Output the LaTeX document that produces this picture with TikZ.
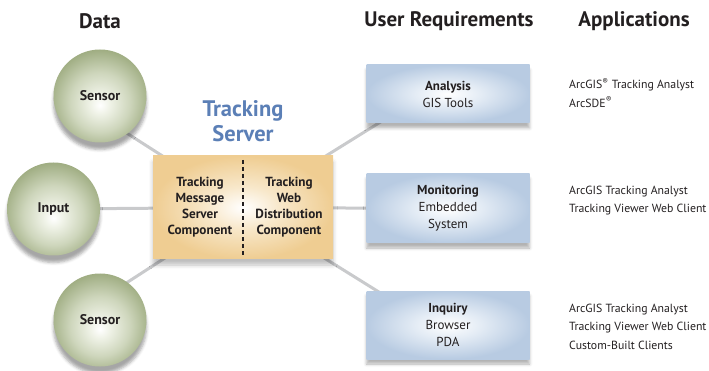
\documentclass[tikz,border=0pt]{standalone}
\usepackage{fontspec}
\setmainfont{PT Sans}
\usetikzlibrary{calc, shadows.blur, backgrounds}
\definecolor{txtgray}{HTML}{231F20}
\definecolor{linegray}{HTML}{C9CACC}
\definecolor{titleblue}{HTML}{5B7FB6}
\definecolor{circgreen}{RGB}{156,170,126}
\definecolor{circmid}{RGB}{206,214,188}
\definecolor{circlight}{RGB}{240,243,232}
\definecolor{boxtan}{RGB}{239,205,146}
\definecolor{boxmid}{RGB}{248,232,203}
\definecolor{reqblue}{RGB}{184,203,226}
\definecolor{reqmid}{RGB}{228,236,245}
\pgfdeclareradialshading{sensorshade}{\pgfpoint{0bp}{-5bp}}{color(0bp)=(white); color(5bp)=(circlight); color(16bp)=(circmid); color(28bp)=(circgreen); color(50bp)=(circgreen)}
\pgfdeclareradialshading{servershade}{\pgfpoint{0bp}{0bp}}{color(0bp)=(white); color(10bp)=(boxmid); color(25bp)=(boxtan); color(50bp)=(boxtan)}
\pgfdeclareradialshading{reqshade}{\pgfpoint{0bp}{0bp}}{color(0bp)=(white); color(10bp)=(reqmid); color(25bp)=(reqblue); color(50bp)=(reqblue)}
\tikzstyle{header} = [font=\bfseries\fontsize{21}{24}\selectfont, text=txtgray]
\tikzstyle{source} = [circle, minimum size=93pt, inner sep=0pt, shading=sensorshade, font=\bfseries\fontsize{14}{16}\selectfont, text=txtgray, blur shadow={shadow xshift=0pt, shadow yshift=-7pt, shadow blur radius=3pt, shadow opacity=35}]
\tikzstyle{server} = [rectangle, minimum width=180pt, minimum height=103pt, inner sep=0pt, shading=servershade, blur shadow={shadow xshift=0pt, shadow yshift=-6pt, shadow blur radius=4pt, shadow opacity=25}]
\tikzstyle{comp} = [align=center, font=\bfseries\fontsize{13.2}{16}\selectfont, text=txtgray]
\tikzstyle{req} = [rectangle, minimum width=163pt, inner sep=0pt, align=center, shading=reqshade, font=\fontsize{13}{17}\selectfont, text=txtgray, blur shadow={shadow xshift=0pt, shadow yshift=-5pt, shadow blur radius=3pt, shadow opacity=30}]
\tikzstyle{app} = [anchor=west, align=left, inner sep=0pt, font=\fontsize{11.8}{18.5}\selectfont, text=txtgray]
\tikzstyle{link} = [line width=3pt, linegray]

\begin{document}
\begin{tikzpicture}[x=1pt,y=-1pt]
        \useasboundingbox (0,0) rectangle (709,371);
        % column headers
        \node [header] at (100,21) (hdata) {Data};
        \node [header] at (449,21) (hreq) {User Requirements};
        \node [header] at (634,21) (happ) {Applications};
        % data sources
        \node [source] at (100,96) (sensora) {Sensor};
        \node [source] at (53.5,209) (input) {Input};
        \node [source] at (100,320) (sensorb) {Sensor};
        % tracking server
        \node [font=\bfseries\fontsize{22.5}{25}\selectfont, text=titleblue, align=center] at (243,121) (title) {Tracking\\Server};
        \node [server] at (243,207.5) (srv) {};
        \node [comp] at (200,207) (msgcomp) {Tracking\\Message\\Server\\Component};
        \node [comp] at (289,207) (webcomp) {Tracking\\Web\\Distribution\\Component};
        \draw [line width=1.6pt, dash pattern=on 4pt off 3pt, txtgray] ([yshift=-4pt]srv.north) -- ([yshift=4pt]srv.south);
        % user requirements
        \node [req, minimum height=58pt] at (448,94) (analysis) {\textbf{Analysis}\\GIS Tools};
        \node [req, minimum height=69pt] at (448,208.5) (monitor) {\textbf{Monitoring}\\Embedded\\System};
        \node [req, minimum height=68pt] at (448,325) (inquiry) {\textbf{Inquiry}\\Browser\\PDA};
        % applications
        \node [app] at (569,93) (appa) {ArcGIS\textsuperscript{®} Tracking Analyst\\ArcSDE\textsuperscript{®}};
        \node [app] at (569,200.5) (appm) {ArcGIS Tracking Analyst\\Tracking Viewer Web Client};
        \node [app] at (569,326.5) (appi) {ArcGIS Tracking Analyst\\Tracking Viewer Web Client\\Custom-Built Clients};
        % connectors
        \begin{scope}[on background layer]
        \draw [link] (srv.center) -- ($(sensora.center)+(0,20)$);
        \draw [link] (srv.center) -- (input.center);
        \draw [link] (srv.center) -- ($(sensorb.center)+(0,-20)$);
        \draw [link] (srv.center) -- ($(analysis.center)+(0,-14)$);
        \draw [link] (srv.center) -- (monitor.center);
        \draw [link] (srv.center) -- ($(inquiry.center)+(0,10)$);
        \end{scope}
        \end{tikzpicture}
\end{document}
